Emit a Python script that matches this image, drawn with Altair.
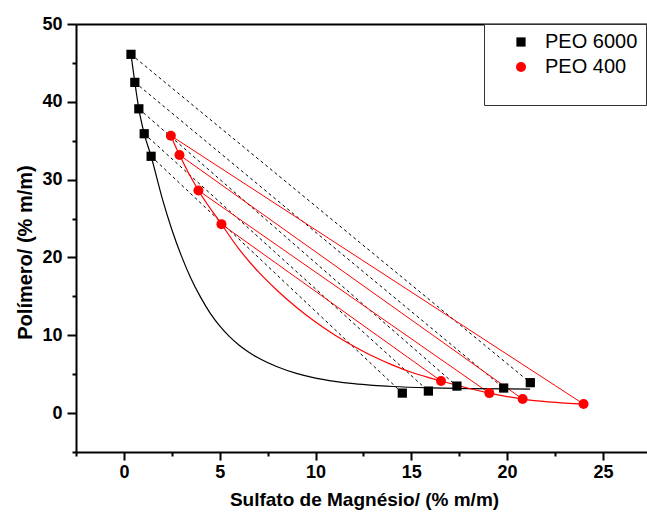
import altair as alt
import pandas as pd

series_names = ["PEO 6000", "PEO 400"]
series_colors = ["#000000", "#ff0000"]
series_shapes = ["square", "circle"]

# experimental points
peo6000_x = [0.37, 0.57, 0.78, 1.06, 1.42, 14.53, 15.89, 17.38, 19.82, 21.21]
peo6000_y = [46.1, 42.5, 39.1, 35.9, 33.0, 2.57, 2.83, 3.47, 3.22, 3.91]
peo400_x = [2.45, 2.90, 3.89, 5.09, 16.55, 19.07, 20.81, 23.99]
peo400_y = [35.65, 33.17, 28.6, 24.28, 4.12, 2.57, 1.80, 1.16]

# tie lines: (top point index, bottom point index)
tie6000_pairs = [(0, 9), (1, 8), (2, 7), (3, 6), (4, 5)]
tie400_pairs = [(0, 7), (1, 6), (2, 5), (3, 4)]

# binodal curves
curve6000_x = [0.37, 0.57, 0.78, 1.06, 1.42, 2.0, 2.5, 3.0, 3.5, 4.0, 4.5, 5.0, 5.5,
               6.0, 6.5, 7.0, 8.0, 9.0, 10.0, 11.0, 12.0, 13.0, 14.0, 16.0, 18.0, 21.2]
curve6000_y = [46.1, 42.5, 39.1, 35.9, 33.0, 27.6, 23.6, 20.2, 17.3, 14.9, 12.85, 11.2, 9.85,
               8.75, 7.85, 7.1, 5.95, 5.1, 4.5, 4.08, 3.78, 3.57, 3.42, 3.24, 3.14, 3.08]
curve400_x = [2.45, 2.90, 3.89, 5.09, 6.0, 7.0, 8.0, 9.0, 10.0, 11.0, 12.0, 13.0,
              14.0, 15.0, 16.0, 16.55, 19.07, 20.81, 23.99]
curve400_y = [35.65, 33.17, 28.6, 24.28, 21.1, 18.2, 15.75, 13.6, 11.7, 10.05, 8.6, 7.3,
              6.2, 5.25, 4.5, 4.12, 2.57, 1.80, 1.16]

x_ticks = [-2.5, 0, 2.5, 5, 7.5, 10, 12.5, 15, 17.5, 20, 22.5, 25]
y_ticks = [-5, 0, 5, 10, 15, 20, 25, 30, 35, 40, 45, 50]

pts = pd.DataFrame({
    "x": peo6000_x + peo400_x,
    "y": peo6000_y + peo400_y,
    "series": ["PEO 6000"] * len(peo6000_x) + ["PEO 400"] * len(peo400_x),
})


def ties(xs, ys, pairs, prefix):
    rows = []
    for k, (a, b) in enumerate(pairs):
        rows.append({"x": xs[a], "y": ys[a], "line": f"{prefix}{k}", "o": 0})
        rows.append({"x": xs[b], "y": ys[b], "line": f"{prefix}{k}", "o": 1})
    return pd.DataFrame(rows)


tie6000 = ties(peo6000_x, peo6000_y, tie6000_pairs, "a")
tie400 = ties(peo400_x, peo400_y, tie400_pairs, "b")
c6000 = pd.DataFrame({"x": curve6000_x, "y": curve6000_y})
c400 = pd.DataFrame({"x": curve400_x, "y": curve400_y})

FONT = "Liberation Sans"
x_scale = alt.Scale(domain=[-2.5, 27.3], nice=False, zero=False)
y_scale = alt.Scale(domain=[-5, 50], nice=False, zero=False)

x_axis = alt.Axis(
    orient="bottom", values=x_ticks, grid=False,
    labelExpr="datum.value % 5 === 0 ? datum.label : ''",
    tickSize={"condition": {"test": "datum.value % 5 === 0", "value": 8}, "value": 4},
    tickWidth=2, tickColor="black", domainWidth=2, domainColor="black",
    labelFont=FONT, labelFontWeight="bold", labelFontSize=18, labelColor="black",
    labelPadding=3, labelOverlap=False,
    title="Sulfato de Magnésio/ (% m/m)", titleFont=FONT, titleFontWeight="bold",
    titleFontSize=19, titleColor="black", titleX=288, titleY=53,
    titleBaseline="alphabetic", titleAlign="center",
)
y_axis = alt.Axis(
    orient="left", values=y_ticks, grid=False,
    labelExpr="datum.value % 10 === 0 ? datum.label : ''",
    tickSize={"condition": {"test": "datum.value % 10 === 0", "value": 9}, "value": 4},
    tickWidth=2, tickColor="black", domainWidth=2, domainColor="black",
    labelFont=FONT, labelFontWeight="bold", labelFontSize=18, labelColor="black",
    labelPadding=5, labelOverlap=False,
    title="Polímero/ (% m/m)", titleFont=FONT, titleFontWeight="bold",
    titleFontSize=20, titleColor="black", titleAngle=270, titleX=-45, titleY=228,
    titleBaseline="alphabetic", titleAlign="center",
)
top_axis = alt.Axis(orient="top", labels=False, ticks=False, title=None, grid=False,
                    domainWidth=2, domainColor="black")

tie_black = alt.Chart(tie6000).mark_line(color="black", strokeWidth=1, strokeDash=[3, 3]).encode(
    x=alt.X("x:Q", scale=x_scale, axis=x_axis),
    y=alt.Y("y:Q", scale=y_scale, axis=y_axis),
    detail="line:N", order="o:Q",
)
tie_red = alt.Chart(tie400).mark_line(color="#ff0000", strokeWidth=1).encode(
    x=alt.X("x:Q", scale=x_scale, axis=None),
    y=alt.Y("y:Q", scale=y_scale, axis=None),
    detail="line:N", order="o:Q",
)
curve_black = alt.Chart(c6000).mark_line(color="black", strokeWidth=1.2, interpolate="monotone").encode(
    x=alt.X("x:Q", scale=x_scale, axis=None),
    y=alt.Y("y:Q", scale=y_scale, axis=None),
)
curve_red = alt.Chart(c400).mark_line(color="#ff0000", strokeWidth=1.2, interpolate="monotone").encode(
    x=alt.X("x:Q", scale=x_scale, axis=None),
    y=alt.Y("y:Q", scale=y_scale, axis=None),
)

legend = alt.Legend(
    title=" ", orient="none", legendX=408, legendY=0,
    strokeColor="#333333", fillColor="white", padding=8,
    symbolOffset=19, labelOffset=14, labelFont=FONT, labelFontSize=20,
    labelColor="black", symbolSize=95, rowPadding=5, symbolStrokeWidth=0,
    titleOrient="bottom", titleFontSize=14, titlePadding=6,
)
points = alt.Chart(pts).mark_point(filled=True, opacity=1).encode(
    x=alt.X("x:Q", scale=x_scale, axis=None),
    y=alt.Y("y:Q", scale=y_scale, axis=None),
    color=alt.Color("series:N", scale=alt.Scale(domain=series_names, range=series_colors), legend=legend),
    shape=alt.Shape("series:N", scale=alt.Scale(domain=series_names, range=series_shapes), legend=legend),
    size=alt.Size("series:N", scale=alt.Scale(domain=series_names, range=[85, 100]), legend=None),
)
top = alt.Chart(pts).mark_point(opacity=0).encode(
    x=alt.X("x:Q", scale=x_scale, axis=top_axis),
    y=alt.Y("y:Q", scale=y_scale, axis=None),
)

chart = alt.layer(tie_black, tie_red, curve_black, curve_red, points, top).resolve_axis(
    x="independent", y="independent"
).properties(
    width=571, height=428,
    autosize=alt.AutoSizeParams(type="none"),
    padding={"left": 76, "top": 24, "right": 0, "bottom": 69},
    background="white",
).configure_view(stroke=None)

chart.save("out.html", embed_options={"renderer": "svg", "actions": False})
